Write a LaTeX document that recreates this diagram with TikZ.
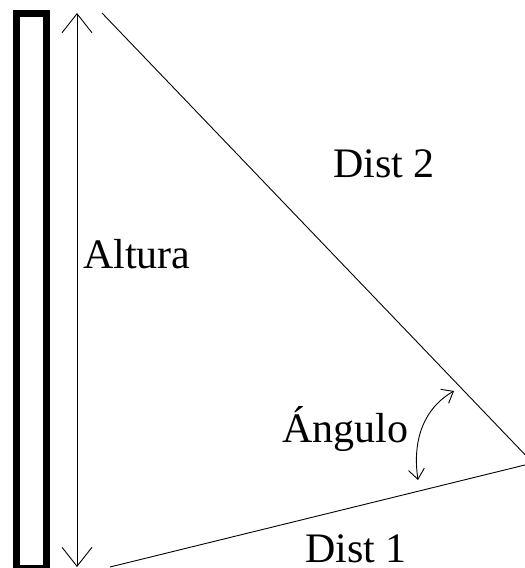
\documentclass[tikz,border=0pt]{standalone}
\usepackage{fontspec}
\setmainfont{Liberation Serif}
\usetikzlibrary{positioning, arrows.meta}

\begin{document}
\begin{tikzpicture}[x=1pt, y=-1pt, font=\fontsize{42}{48}\selectfont]
        % estilos comunes
        \tikzset{
            pole/.style={line width=7.5pt},
            medida/.style={line width=0.9pt, {Straight Barb[length=19pt, width=30pt]}-{Straight Barb[length=19pt, width=30pt]}},
            lado/.style={line width=0.9pt},
            giro/.style={line width=0.9pt, {Straight Barb[length=10pt, width=16pt]}-{Straight Barb[length=10pt, width=16pt]}},
            rotulo/.style={inner sep=0pt, text depth=0pt, anchor=base west}
        }

        % marco del dibujo
        \useasboundingbox (0,0) rectangle (525,568);
        \clip (0,0) rectangle (525,568);

        % --- puntos del triangulo ---
        \coordinate (cima) at (102,13);
        \coordinate (pie) at (110,567);
        \coordinate (vertice) at (533,463);
        \coordinate (arriba) at (77,13);
        \coordinate (abajo) at (77,567);
        \coordinate (giroA) at (418,480);
        \coordinate (giroB) at (454,391);

        % --- poste ---
        \draw[pole] (16.5,13.5) rectangle (46.5,568.5);

        % --- altura ---
        \draw[medida] (arriba) -- (abajo);

        % --- lados ---
        \draw[lado] (cima) -- (vertice);
        \draw[lado] (pie) -- (vertice);

        % --- angulo ---
        \draw[giro] (giroA) .. controls (412,440) and (424,408) .. (giroB);

        % --- rotulos ---
        \node[rotulo] (altura) at (83,268) {Altura};
        \node[rotulo] (dist2) at (333,177) {Dist 2};
        \node[rotulo] (angulo) at (282,442) {Ángulo};
        \node[rotulo] (dist1) at (305,562) {Dist 1};
    \end{tikzpicture}
\end{document}
